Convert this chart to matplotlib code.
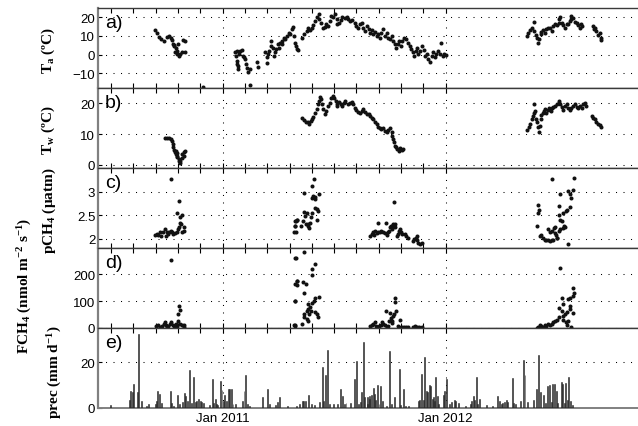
import numpy as np
import matplotlib.pyplot as plt
import matplotlib.dates as mdates
from matplotlib.ticker import FixedLocator

# all x values are days counted from 1 Jan 2011
ta_day = [-111, -107, -104, -101, -96, -91, -87, -85, -83, -81, -80, -79, -78, -76, -75, -74, -73, -71, -69, -66, -65, -62, -61,
          -32, 45,
          20, 22, 23, 24, 26, 25, 23, 27, 29, 32, 33, 35, 37, 38, 40, 42, 45, 57, 58, 69, 72, 73, 75, 76, 79, 80, 82, 84,
          86, 87, 90, 92, 94, 97, 98, 100, 102, 105, 108, 110, 113, 115, 117, 118, 120, 122,
          123, 130, 134, 138, 140, 143, 146, 148, 151, 154, 157, 158, 161, 165, 168, 170, 173, 176, 178, 181, 184, 187,
          188, 190, 194, 196, 200, 203, 206, 208, 211, 216, 219, 222, 225, 228, 230, 233, 236, 239, 241, 244, 247, 249,
          252, 255, 258, 260, 263, 266, 269, 271, 274, 277, 279, 282, 284, 287, 289, 292, 294, 297, 300, 303, 307, 309,
          312, 314, 316, 318, 320, 323, 326, 329, 331, 334, 337, 339, 342, 345, 348, 350, 353, 356, 357, 360, 363, 365,
          499, 500, 503, 506, 509, 510, 513, 515, 517, 518, 521, 522, 525, 528, 530, 533, 536, 539, 541, 544, 547, 550,
          551, 553, 555, 558, 560, 563, 566, 569, 570, 571, 574, 577, 580, 582, 585, 586, 588, 606, 608, 610, 612, 614,
          617, 619, 620]
ta_val = [13.1, 11.3, 9.5, 8.2, 7.3, 9.5, 10.0, 9.1, 7.7, 5.9, 5.2, 4.6, 1.1, 3.7, 1.9, 0.2, 5.5, -0.7, 0.5, 1.6, 7.7, 7.0, 1.1,
          -17.6, -16.5,
          1.1, -0.7, -3.4, -4.9, -6.1, -7.9, 2.0, 0.2, 2.0, 2.3, -0.7, -1.6, -2.5, -4.9, -7.0, -9.3, -7.9, -3.8, -6.6, 1.1,
          -1.6, -4.3, 0.2, 2.0, 4.6, 7.3, 3.7, -0.7,
          1.1, 2.9, 5.5, 3.7, 6.4, 7.3, 5.5, 9.1, 8.2, 10.0, 11.8, 10.9, 13.6, 14.9, 10.0, 6.4, 4.6, 2.9,
          2.3, 9.1, 10.9, 12.7, 14.1, 13.1, 14.5, 15.9, 18.1, 19.9, 22.0, 19.0, 17.2, 14.1, 14.9, 16.3, 15.4, 18.1, 20.8,
          19.9, 21.7, 19.0,
          16.3, 17.2, 18.4, 19.9, 19.5, 20.2, 19.0, 18.1, 18.4, 17.2, 15.4, 14.1, 16.3, 17.2, 14.5, 12.7, 15.4, 13.6, 11.8,
          13.1, 10.9, 12.3,
          10.0, 10.9, 9.1, 11.8, 13.6, 10.0, 11.3, 9.1, 8.2, 10.0, 7.3, 5.5, 3.7, 5.9, 7.3, 4.6, 7.0, 9.1, 8.2, 6.4, 4.6, 2.9,
          1.1, -0.7, 2.0, 3.7, 0.2, 2.0, 4.6, 2.3, -0.7, 0.5, -2.5, -3.8, -0.7, 1.1, -1.6, 0.2, 2.0, 0.5, 6.4, -0.7, 0.5, -0.2,
          10.0, 11.8, 13.1, 14.5, 17.7, 12.7, 10.6, 9.1, 6.4, 8.2, 10.9, 12.3, 13.1, 11.8, 13.6, 14.1, 14.5, 12.7, 15.4,
          16.6, 15.9, 17.2,
          19.0, 19.9, 17.2, 15.9, 14.1, 16.3, 16.6, 18.1, 20.8, 19.0, 19.5, 17.7, 17.2, 15.9, 14.5, 16.6, 15.4, 15.4, 13.6,
          14.5, 12.7, 10.6,
          11.8, 9.1, 7.7]

tw_day = [-94, -91, -87, -85, -83, -82, -81, -80, -78, -77, -76, -75, -74, -74, -72, -71, -70, -69, -67, -66, -64, -63, -62,
          130, 134, 136, 139, 141, 145, 147, 148, 151, 154, 156, 158, 159, 161, 162, 165, 168, 170, 173, 176, 178, 180,
          183, 185, 187, 188, 190, 194, 196, 199, 201, 205, 208, 211, 214, 217, 219, 222, 225, 228, 230, 233, 236, 239,
          241, 244, 247, 249, 252, 255, 258, 260, 263, 266, 269, 271, 274, 277, 278, 279, 281, 282, 284, 285, 288, 290,
          293, 296,
          499, 501, 503, 506, 508, 509, 510, 511, 513, 515, 517, 518, 520, 521, 522, 524, 526, 528, 530, 532, 535, 537,
          539, 541, 544, 547, 550, 551, 553, 555, 558, 560, 563, 566, 569, 571, 574, 577, 580, 582, 585, 588, 590, 593,
          595, 604, 607, 610, 612, 615, 618, 619]
tw_val = [8.9, 8.7, 8.9, 8.4, 7.7, 6.8, 5.7, 4.9, 4.1, 4.6, 3.6, 3.0, 3.8, 2.5, 2.0, 1.4, 0.6, 1.2, 2.3, 3.6, 3.0, 4.1, 4.4,
          15.4, 14.5, 14.1, 13.8, 13.4, 14.3, 14.8, 15.6, 17.0, 18.1, 19.7, 20.8, 22.1, 21.3, 19.7, 18.1, 16.5, 17.5,
          19.2, 20.2, 21.6, 22.4,
          21.8, 20.8, 19.2, 19.7, 20.6, 19.9, 19.2, 20.2, 20.8, 19.7, 20.2, 20.6, 19.7, 18.6, 17.8, 17.3, 17.0, 17.5, 18.1,
          17.3, 16.5, 16.7,
          15.9, 15.4, 14.9, 14.1, 13.2, 12.4, 11.9, 11.6, 11.9, 11.1, 10.6, 11.3, 11.9, 10.6, 9.5, 8.4, 7.3, 6.2, 5.7, 5.2,
          4.6, 5.5, 4.9, 5.3,
          11.3, 12.2, 13.2, 14.9, 15.9, 17.0, 19.7, 17.5, 14.9, 13.8, 12.2, 10.6, 12.7, 14.9, 16.2, 17.0, 17.5, 18.1, 17.0,
          17.8, 18.6, 17.5,
          18.4, 18.8, 19.2, 19.7, 20.2, 20.8, 19.7, 18.8, 17.8, 19.2, 19.7, 18.6, 17.8, 18.4, 19.2, 19.7, 18.8, 18.4, 19.2,
          18.6, 19.7, 20.2,
          19.2, 15.9, 15.4, 14.9, 14.1, 13.2, 13.0, 12.2]

pch4_day = [-85, -71, -74, -69, -67, -70, -68, -72, -63, -64, -66, -94, -111, -108, -105, -103, -101, -97, -93, -91,
            -89, -87, -85, -83, -81, -78, -75, -73,
            117, 118, 120, 122, 118, 121, 118, 120, 129, 132, 134, 135, 138, 136, 139, 140, 141, 143, 145, 146, 147, 148,
            151, 152, 150, 146, 134, 157, 154, 156, 152, 154,
            241, 244, 247, 248, 249, 252, 254, 255, 258, 260, 263, 266, 267, 269, 270, 272, 274, 276, 277, 278, 279, 281,
            282, 283, 285, 287, 289, 290, 292, 294, 299, 301, 303, 312, 314, 316, 318, 319, 320, 323, 326,
            540, 575, 573, 566, 569, 570, 553, 551, 517, 518, 516, 568, 564, 562, 557, 550, 552, 555, 514, 533, 536, 539,
            542, 544, 544, 546, 548, 551, 553, 557, 559, 560, 520, 522, 525, 528, 530, 533, 536, 539, 541, 547, 566]
pch4_val = [3.27, 2.79, 2.54, 2.46, 2.50, 2.34, 2.32, 2.25, 2.25, 2.16, 2.14, 2.21, 2.08, 2.09, 2.08, 2.13, 2.06, 2.13,
            2.06, 2.13, 2.09, 2.15, 2.16, 2.13, 2.09, 2.11, 2.13, 2.21,
            2.13, 2.27, 2.38, 2.39, 2.38, 2.39, 2.27, 2.13, 2.27, 2.38, 2.56, 2.49, 2.54, 2.31, 2.32, 2.27, 2.22, 2.34,
            2.45, 2.54, 2.86, 2.91, 2.88, 2.84, 3.27, 3.11, 2.96, 2.94, 2.63, 2.59, 2.66, 2.39,
            2.06, 2.09, 2.13, 2.08, 2.16, 2.11, 2.34, 2.14, 2.13, 2.16, 2.13, 2.11, 2.34, 2.08, 2.13, 2.16, 2.24, 2.27,
            2.20, 2.27, 2.31, 2.77, 2.32, 2.24, 2.06, 2.09, 2.16, 2.20, 2.13, 2.09, 2.09, 2.06, 2.02, 1.95, 1.99, 2.02,
            1.96, 2.06, 1.91, 1.88, 1.91,
            3.27, 3.29, 3.04, 3.01, 2.95, 2.86, 2.94, 2.70, 2.72, 2.61, 2.54, 2.68, 2.61, 2.58, 2.54, 2.51, 2.39, 2.38,
            2.27, 2.20, 2.13, 2.16, 2.23, 2.25, 2.11, 2.08, 2.02, 2.16, 2.20, 2.23, 2.27, 2.25, 2.06, 2.08, 2.02, 1.98,
            1.96, 1.98, 1.95, 1.96, 1.98, 2.01, 1.88]

fch4_day = [-85, -71, -69, -73, -109, -105, -103, -100, -96, -94, -92, -91, -89, -86, -84, -82, -80, -78, -76, -74, -73,
            -70, -67, -64, -63,
            120, 122, 121, 119, 117, 119,
            134, 118, 151, 146, 146, 121, 118, 132, 136, 134, 118, 140, 147, 150, 152, 157, 143, 139, 138, 134, 141, 145,
            152, 154, 156, 138, 134, 130, 140, 118,
            241, 244, 247, 249, 251, 254, 256, 259, 261, 263, 266, 267, 269, 270, 272, 274, 275, 277, 278, 279, 281, 282,
            283, 284, 287, 289, 290, 293, 297, 301, 304, 312, 315, 318, 321, 326,
            553, 573, 575, 574, 568, 565, 555, 557, 568, 569, 551, 563, 560, 573, 555, 558, 550, 547, 544, 541, 539, 536,
            533, 530, 528, 525, 522, 520, 517, 514, 557, 562, 563, 570, 566]
fch4_val = [252.6, 81.2, 68.7, 52.4, 6.2, 9.9, 2.4, 6.2, 14.9, 22.4, 12.4, 2.4, 6.2, 14.9, 22.4, 12.4, 6.2, 2.4, 14.9,
            6.2, 24.9, 14.9, 9.9, 12.4, 2.4,
            260.1, 175.1, 160.0, 100.0, 12.4, 6.2,
            281.3, 260.1, 240.1, 218.8, 197.5, 175.0, 165.0, 172.5, 165.0, 131.2, 100.0, 90.0, 93.7, 100.0, 112.5, 115.0,
            77.5, 72.5, 62.5, 52.4, 52.4, 62.5, 60.0, 52.4, 39.9, 34.9, 39.9, 14.9, 27.4, 12.4,
            6.2, 9.9, 14.9, 22.4, 6.2, 2.4, 6.2, 9.9, 22.4, 14.9, 9.9, 64.9, 2.4, 6.2, 24.9, 56.2, 37.4, 24.9, 18.7, 43.7,
            52.4, 112.5, 97.5, 64.9, 6.2, 2.4, 31.2, 2.4, 2.4, 2.4, 2.4, 2.4, 6.2, 2.4, 2.4, 2.4,
            222.6, 147.5, 131.2, 118.7, 112.5, 106.2, 110.0, 90.0, 81.2, 72.5, 75.0, 60.0, 52.4, 56.2, 62.5, 43.7, 39.9,
            31.2, 27.4, 22.4, 14.9, 9.9, 14.9, 6.2, 9.9, 2.4, 6.2, 9.9, 2.4, 0.5, 31.2, 22.4, 12.4, 2.4, 24.9]

prec_day = [-183, -152, -151, -148, -146, -140, -138, -132, -125, -121, -110, -108, -106, -103, -100, -86, -84, -80,
            -74, -70, -65, -62, -61, -58, -54, -51, -48, -45, -42, -39, -37, -34, -31, -22, -17, -15, -12, -10, -8,
            -3, -1, 1, 3, 6, 10, 12, 14, 17, 21, 32, 35, 37, 40, 44, 66, 74, 77, 86, 90, 93, 106, 121, 126, 130, 133,
            135, 141, 145, 151, 159, 163, 165, 168, 172, 175, 181, 188, 193, 197, 200, 202, 210, 216, 219, 222, 225,
            227, 230, 232, 237, 241,
            237, 240, 243, 247, 249, 251, 254, 256, 259, 262, 268, 273, 276, 281, 289, 292, 296, 299, 304, 321, 323,
            326, 329, 330, 334, 336, 338, 341, 343, 345, 347, 349, 351, 354, 361, 363, 366, 372, 375, 379, 382, 386,
            398, 405, 408, 410, 413, 415, 417, 421, 432, 442, 450, 453, 456, 458, 461, 465, 467, 474, 476, 479, 487,
            492, 495, 499, 509, 514, 517, 520, 525, 528, 532, 535, 538, 540, 543, 546, 548, 554, 557, 559, 562, 564,
            566, 569, 573]
prec_val = [1.4, 3.5, 7.6, 6.8, 10.5, 6.8, 32.4, 2.9, 1.0, 1.7, 1.7, 2.9, 7.6, 6.1, 2.0, 7.3, 2.0, 1.0, 5.5, 1.7,
            2.5, 6.4, 5.2, 2.9, 16.6, 2.0, 13.4, 2.5, 3.2, 4.0, 2.9, 2.5, 2.0, 1.4, 12.5, 2.0, 4.0, 1.7, 1.4, 11.7,
            7.9, 2.9, 5.8, 3.2, 8.3, 8.3, 8.3, 1.7, 1.7, 2.9, 7.6, 14.4, 1.7, 1.0, 5.0, 8.3, 1.7, 1.4, 2.5, 5.0, 1.0,
            1.0, 1.7, 2.9, 3.2, 2.9, 5.8, 1.7, 1.4, 2.5, 18.1, 2.9, 14.6, 25.4, 1.7, 1.7, 1.7, 8.3, 5.4, 1.7, 2.0,
            2.0, 12.7, 20.4, 1.7, 2.5, 6.8, 28.7, 4.7, 1.7, 4.0,
            5.0, 5.4, 5.8, 8.7, 6.1, 3.5, 10.1, 1.7, 9.8, 3.2, 1.0, 25.1, 1.7, 5.0, 17.1, 1.4, 8.3, 1.0, 1.0, 3.2,
            3.5, 14.9, 3.5, 22.5, 7.3, 6.8, 10.2, 9.8, 4.0, 5.0, 3.2, 13.7, 5.4, 1.7, 5.8, 7.6, 12.7, 1.7, 2.5, 3.5,
            2.9, 2.0, 1.0, 1.7, 2.9, 5.3, 3.5, 13.7, 1.7, 4.0, 1.3, 1.0, 5.4, 2.9, 1.7, 2.0, 2.5, 3.5, 2.5, 13.1,
            2.0, 1.7, 2.9, 21.0, 14.6, 2.5, 3.5, 8.3, 23.3, 6.8, 5.8, 2.0, 9.8, 10.2, 2.5, 10.5, 10.5, 7.6, 2.0,
            11.2, 10.5, 2.0, 10.8, 3.5, 13.7, 2.9, 1.4]

panel_tags = ['a)', 'b)', 'c)', 'd)', 'e)']
ylabels = ['T$_a$ (ºC)', 'T$_w$ (ºC)', 'pCH$_4$ (μatm)',
           'FCH$_4$ (nmol m$^{-2}$ s$^{-1}$)', 'prec (mm d$^{-1}$)']
yticks = [[-10, 0, 10, 20], [0, 10, 20], [2, 2.5, 3], [0, 100, 200], [0, 20]]
yticklabels = [['\u221210', '0', '10', '20'], ['0', '10', '20'], ['2', '2.5', '3'], ['0', '100', '200'], ['0', '20']]
ylims = [(-18, 25), (-1, 25), (1.8, 3.5), (0, 298), (0, 35)]

plt.rcParams['font.family'] = ['Liberation Sans', 'DejaVu Sans']
plt.rcParams['mathtext.fontset'] = 'custom'
plt.rcParams['mathtext.rm'] = 'Liberation Serif:bold'
plt.rcParams['mathtext.it'] = 'Liberation Serif:bold'
plt.rcParams['mathtext.bf'] = 'Liberation Serif:bold'

base = mdates.date2num(np.datetime64('2011-01-01'))

def to_num(days):
    return base + np.asarray(days, dtype=float)

fig = plt.figure(figsize=(6.38, 4.27), dpi=100)
W, H = 638.0, 427.0
tops = [9, 89, 169, 249, 329]
axes = []
for i in range(5):
    ax = fig.add_axes([98 / W, 1 - (tops[i] + 80) / H, 1 - 98 / W, 80 / H])
    axes.append(ax)

scatter_sets = [(ta_day, ta_val), (tw_day, tw_val), (pch4_day, pch4_val), (fch4_day, fch4_val)]
for ax, (d, v) in zip(axes[:4], scatter_sets):
    ax.plot(to_num(d), v, 'o', ms=2.9, mew=0, color='#111111', zorder=3)

axes[4].bar(to_num(prec_day), prec_val, width=1.6, color='#111111', edgecolor='#333333', linewidth=0.4, zorder=3)

dots = (0, (1.0, 6.2))
minor_pos = to_num(np.arange(-6, 10) * 36.5)
for i, ax in enumerate(axes):
    ax.set_xlim(to_num(-204), to_num(680))
    ax.set_ylim(*ylims[i])
    ax.set_yticks(yticks[i])
    ax.set_yticklabels(yticklabels[i])
    ax.xaxis.set_major_locator(mdates.YearLocator())
    ax.xaxis.set_major_formatter(mdates.DateFormatter('%b %Y'))
    ax.xaxis.set_minor_locator(FixedLocator(minor_pos))
    ax.tick_params(axis='y', direction='in', length=3, width=0.8, pad=2, labelsize=9.5, right=False)
    ax.tick_params(axis='x', which='both', direction='in', length=3.5, width=0.8, top=True,
                   bottom=(i < 4), labelbottom=(i == 4), labelsize=9.5, pad=3)
    ax.grid(True, axis='y', linestyle=dots, color='k', linewidth=0.75)
    ax.grid(True, axis='x', which='major', linestyle=dots, color='k', linewidth=0.75)
    ax.spines['right'].set_visible(False)
    ax.spines['left'].set_color('#808080')
    ax.spines['left'].set_linewidth(1.6)
    for s in ['top', 'bottom']:
        ax.spines[s].set_color('#3a3a3a')
        ax.spines[s].set_linewidth(1.0)
    ax.text(0.013, 0.93, panel_tags[i], transform=ax.transAxes, fontsize=14, va='top', ha='left')

axes[4].spines['bottom'].set_color('#808080')
axes[4].spines['bottom'].set_linewidth(1.4)

label_x = [48, 48, 49, 25, 55]
label_y = [50, 130, 211, 286, 372]
for i in range(5):
    fig.text(label_x[i] / W, 1 - label_y[i] / H, ylabels[i], rotation=90, ha='center', va='center',
             family='Liberation Serif', fontweight='bold', fontsize=11)

fig.savefig('out.png', dpi=100)
